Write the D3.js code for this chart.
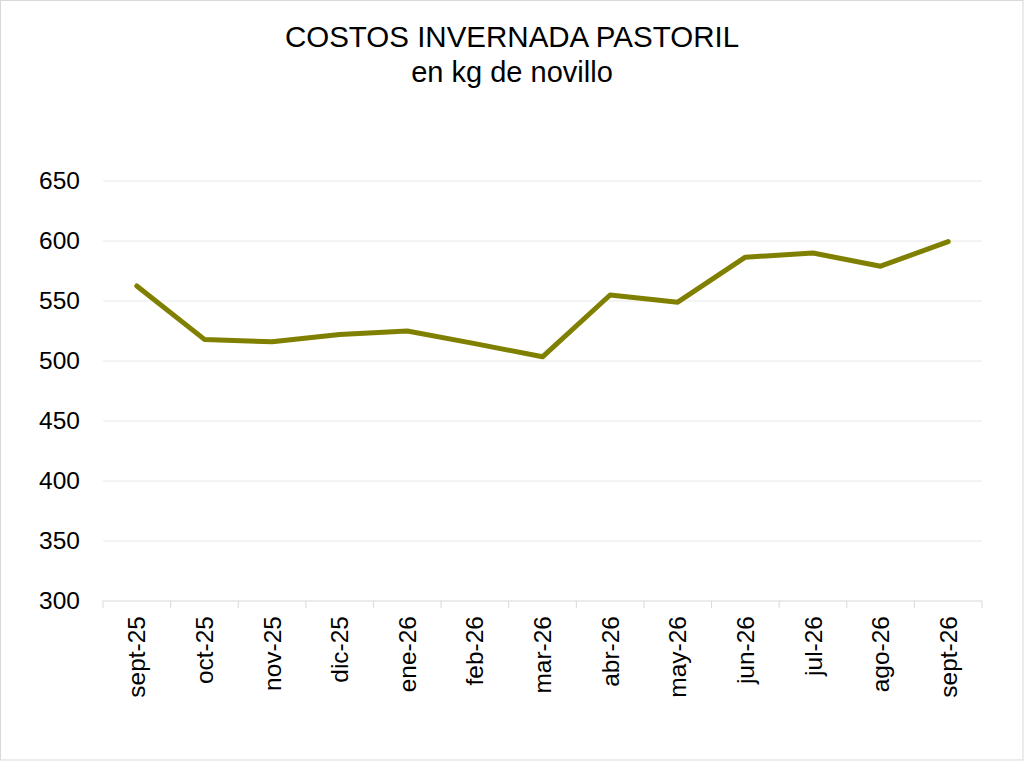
<!DOCTYPE html>
<html>
<head>
<meta charset="utf-8">
<script src="https://cdn.jsdelivr.net/npm/d3@7"></script>
<style>
  html, body { margin: 0; padding: 0; background: #fff; }
  svg { display: block; font-family: "Liberation Sans", Arial, sans-serif; }
</style>
</head>
<body>
<div id="chart"></div>
<script>
// data
const months = ["sept-25", "oct-25", "nov-25", "dic-25", "ene-26", "feb-26", "mar-26",
                "abr-26", "may-26", "jun-26", "jul-26", "ago-26", "sept-26"]
const costos = [562.5, 518, 516, 522, 525, 514.5, 503.5, 555, 549, 586.5, 590, 579, 599.5]
const yTicks = [300, 350, 400, 450, 500, 550, 600, 650]

const width = 1024
const height = 761
const margin = { top: 181, right: 42, bottom: 160, left: 103 }
const labelSize = "24.5px"

const svg = d3.select("#chart")
  .append("svg")
  .attr("width", width)
  .attr("height", height)

// chart border
svg.append("rect")
  .attr("x", 0.5)
  .attr("y", 0.5)
  .attr("width", width - 1.5)
  .attr("height", height - 1.5)
  .style("fill", "#fff")
  .style("stroke", "#d9d9d9")

const x = d3.scaleBand()
  .domain(months)
  .range([margin.left, width - margin.right])

const y = d3.scaleLinear()
  .domain([300, 650])
  .range([height - margin.bottom, margin.top])

// gridlines
svg.append("g")
  .selectAll("line")
  .data(yTicks.slice(1))
  .enter().append("line")
  .attr("x1", margin.left)
  .attr("x2", width - margin.right)
  .attr("y1", d => y(d))
  .attr("y2", d => y(d))
  .style("stroke", "#e8e8e8")
  .style("stroke-width", 1)

// y axis labels
const yAxis = svg.append("g")
  .attr("transform", `translate(${margin.left - 23},0)`)
  .call(d3.axisLeft(y).tickValues(yTicks).tickSize(0).tickPadding(0))
yAxis.select(".domain").remove()
yAxis.selectAll("text")
  .style("font-size", labelSize)
  .style("fill", "#000")
  .attr("font-family", "Liberation Sans, Arial, sans-serif")

// x axis: ticks at band boundaries
const xAxis = svg.append("g")
  .attr("transform", `translate(0,${height - margin.bottom})`)
xAxis.append("line")
  .attr("x1", margin.left)
  .attr("x2", width - margin.right)
  .style("stroke", "#d9d9d9")
  .style("stroke-width", 1)
xAxis.selectAll(".tick-mark")
  .data(months.concat(["end"]))
  .enter().append("line")
  .attr("class", "tick-mark")
  .attr("x1", (d, i) => margin.left + i * x.step())
  .attr("x2", (d, i) => margin.left + i * x.step())
  .attr("y1", 0)
  .attr("y2", 7)
  .style("stroke", "#d9d9d9")
xAxis.selectAll("text")
  .data(months)
  .enter().append("text")
  .attr("transform", d => `translate(${x(d) + x.bandwidth() / 2},15) rotate(-90)`)
  .attr("dy", "0.35em")
  .attr("text-anchor", "end")
  .style("font-size", labelSize)
  .style("fill", "#000")
  .text(d => d)

// line
const line = d3.line()
  .x((d, i) => x(months[i]) + x.bandwidth() / 2)
  .y(d => y(d))

svg.append("path")
  .datum(costos)
  .attr("d", line)
  .style("fill", "none")
  .style("stroke", "#808000")
  .style("stroke-width", 5)
  .style("stroke-linejoin", "round")
  .style("stroke-linecap", "round")

// titles
svg.append("text")
  .attr("x", 512)
  .attr("y", 47)
  .attr("text-anchor", "middle")
  .style("font-size", "29.5px")
  .text("COSTOS INVERNADA PASTORIL")
svg.append("text")
  .attr("x", 512)
  .attr("y", 82)
  .attr("text-anchor", "middle")
  .style("font-size", "29px")
  .text("en kg de novillo")
</script>
</body>
</html>
